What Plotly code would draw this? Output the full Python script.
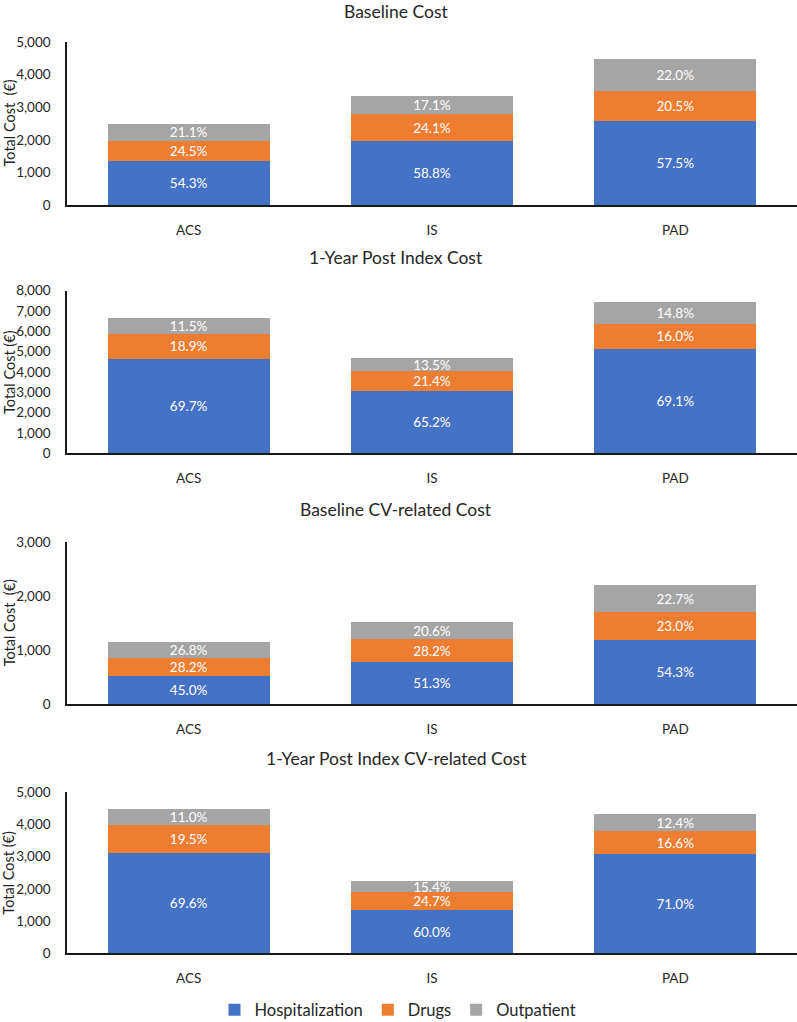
import plotly.graph_objects as go

W, H = 797, 1022
categories = ["ACS", "IS", "PAD"]
series_names = ["Hospitalization", "Drugs", "Outpatient"]
colors = ["#4472C4", "#ED7D31", "#A5A5A5"]

panel_titles = ["Baseline Cost", "1-Year Post Index Cost",
                "Baseline CV-related Cost", "1-Year Post Index CV-related Cost"]
y_titles = ["Total Cost  (€)", "Total Cost (€)", "Total Cost  (€)", "Total Cost (€)"]
y_max = [5000, 8000, 3000, 5000]

totals_baseline = [2500, 3350, 4480]
totals_1yr = [6640, 4670, 7460]
totals_cv_baseline = [1160, 1520, 2200]
totals_cv_1yr = [4460, 2240, 4320]

# Share (%) of each component, as labelled on the bars
hosp_baseline = [54.3, 58.8, 57.5]
drugs_baseline = [24.5, 24.1, 20.5]
outp_baseline = [21.1, 17.1, 22.0]

hosp_1yr = [69.7, 65.2, 69.1]
drugs_1yr = [18.9, 21.4, 16.0]
outp_1yr = [11.5, 13.5, 14.8]

hosp_cv_baseline = [45.0, 51.3, 54.3]
drugs_cv_baseline = [28.2, 28.2, 23.0]
outp_cv_baseline = [26.8, 20.6, 22.7]

hosp_cv_1yr = [69.6, 60.0, 71.0]
drugs_cv_1yr = [19.5, 24.7, 16.6]
outp_cv_1yr = [11.0, 15.4, 12.4]

panels = [
    (totals_baseline, [hosp_baseline, drugs_baseline, outp_baseline]),
    (totals_1yr, [hosp_1yr, drugs_1yr, outp_1yr]),
    (totals_cv_baseline, [hosp_cv_baseline, drugs_cv_baseline, outp_cv_baseline]),
    (totals_cv_1yr, [hosp_cv_1yr, drugs_cv_1yr, outp_cv_1yr]),
]

# pixel layout (top, bottom) of each plot area
px_domains = [(42, 205), (290.7, 453.3), (542.3, 704.3), (792, 953.3)]
title_y_px = [11, 258, 509, 758]
x_left_px = 67

FONT = "Lato, 'Open Sans', sans-serif"
fig = go.Figure()
annotations = []

for i, (totals, shares) in enumerate(panels):
    ax = "" if i == 0 else str(i + 1)
    for s, (name, col) in enumerate(zip(series_names, colors)):
        vals = [t * p / 100.0 for t, p in zip(totals, shares[s])]
        fig.add_trace(go.Bar(
            x=categories, y=vals, name=name,
            marker=dict(color=col, line=dict(width=0)),
            text=[f"{p:.1f}%" for p in shares[s]],
            textposition="inside", insidetextanchor="middle",
            textangle=0, constraintext="none",
            textfont=dict(color="white", size=13.5, family=FONT),
            xaxis="x" + ax, yaxis="y" + ax,
            legendgroup=name, showlegend=(i == 0),
            hoverinfo="skip",
        ))
    top, bot = px_domains[i]
    dom = [1 - bot / H, 1 - top / H]
    fig.update_layout(**{
        "xaxis" + ax: dict(domain=[x_left_px / W, 1], range=[-0.5, 2.5],
                           anchor="y" + ax, showline=True, linecolor="#1a1a1a",
                           linewidth=1.5, ticks="", showgrid=False,
                           automargin=False, ticklabelstandoff=12,
                           tickfont=dict(size=13.5, color="#262626", family=FONT)),
        "yaxis" + ax: dict(domain=dom, range=[0, y_max[i]], dtick=1000,
                           tickformat=",d", anchor="x" + ax, showline=True,
                           linecolor="#1a1a1a", linewidth=1.5, ticks="",
                           showgrid=False, zeroline=False, ticklabelstandoff=12,
                           automargin=False,
                           tickfont=dict(size=13.5, color="#262626", family=FONT)),
    })
    annotations.append(dict(text=panel_titles[i], xref="paper", yref="paper",
                            x=396 / W, y=1 - title_y_px[i] / H,
                            xanchor="center", yanchor="middle", showarrow=False,
                            font=dict(size=17.5, color="#262626", family=FONT)))
    annotations.append(dict(text=y_titles[i], xref="paper", yref="paper",
                            x=9 / W, y=1 - (top + bot) / 2 / H, textangle=-90,
                            xanchor="center", yanchor="middle", showarrow=False,
                            font=dict(size=14.5, color="#262626", family=FONT)))

fig.update_layout(
    width=W, height=H, barmode="stack", bargap=0.333,
    margin=dict(l=0, r=0, t=0, b=0, autoexpand=False),
    paper_bgcolor="white", plot_bgcolor="white",
    annotations=annotations,
    legend=dict(orientation="h", x=398 / W, xanchor="center", y=1 - 1010 / H,
                yanchor="middle", font=dict(size=16.5, color="#262626", family=FONT),
                itemsizing="constant", itemwidth=30),
)

fig.write_html("out.html",
               config={"displayModeBar": False},
               post_script="document.body.style.margin='0';"
                           "document.body.style.overflow='hidden';")
